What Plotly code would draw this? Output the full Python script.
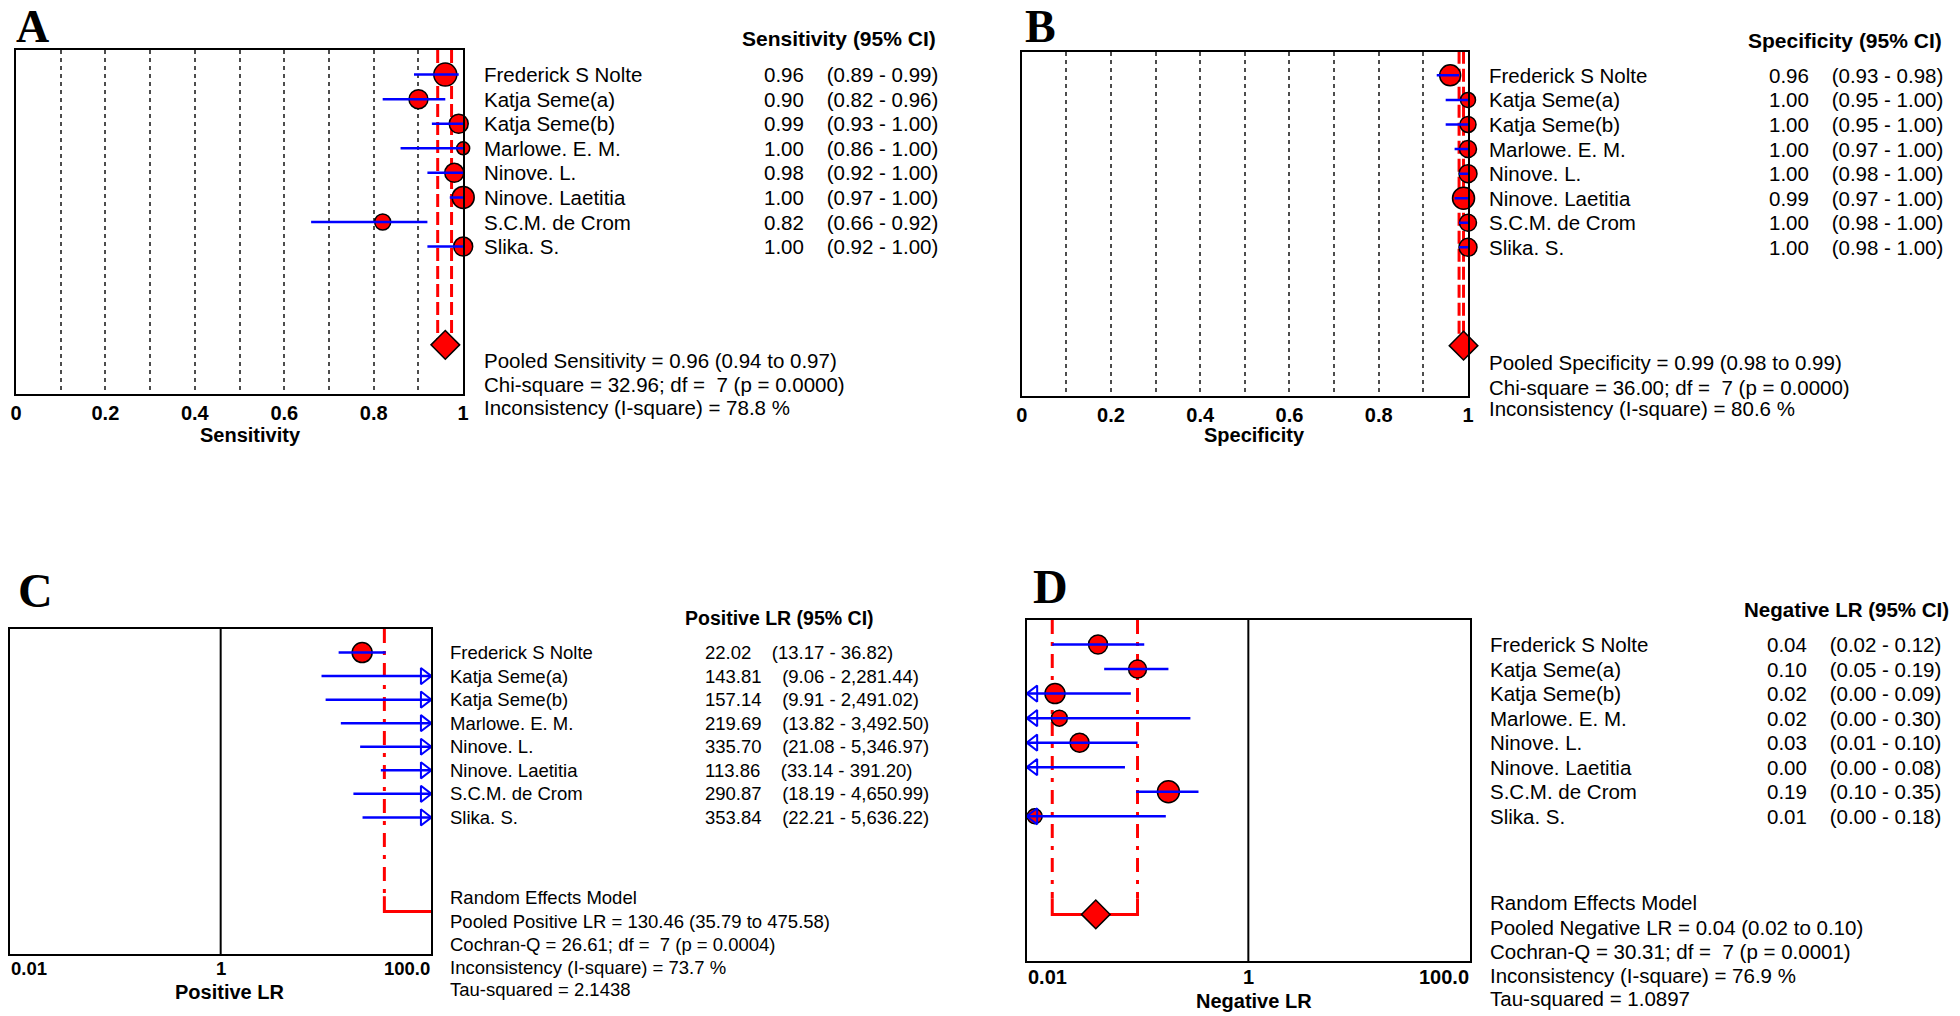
import numpy as np
import plotly.graph_objects as go

W, H = 1960, 1016
SANS = "Liberation Sans, Arial, sans-serif"
SERIF = "Liberation Serif, Times New Roman, serif"
NB = "\u00a0"

# ---------------- data ----------------
studies = ["Frederick S Nolte", "Katja Seme(a)", "Katja Seme(b)", "Marlowe. E. M.",
           "Ninove. L.", "Ninove. Laetitia", "S.C.M. de Crom", "Slika. S."]

sens_est = [0.96, 0.90, 0.99, 1.00, 0.98, 1.00, 0.82, 1.00]
sens_lo = [0.89, 0.82, 0.93, 0.86, 0.92, 0.97, 0.66, 0.92]
sens_hi = [0.99, 0.96, 1.00, 1.00, 1.00, 1.00, 0.92, 1.00]
sens_size = [23, 19, 19, 13, 19, 22, 16, 19]
sens_pooled = [0.96, 0.943, 0.974]
sens_stats = ["Pooled Sensitivity = 0.96 (0.94 to 0.97)",
              "Chi-square = 32.96; df = " + NB + "7 (p = 0.0000)",
              "Inconsistency (I-square) = 78.8 %"]

spec_est = [0.96, 1.00, 1.00, 1.00, 1.00, 0.99, 1.00, 1.00]
spec_lo = [0.93, 0.95, 0.95, 0.97, 0.98, 0.97, 0.98, 0.98]
spec_hi = [0.98, 1.00, 1.00, 1.00, 1.00, 1.00, 1.00, 1.00]
spec_size = [21, 15, 16, 17, 18, 22, 17, 18]
spec_pooled = [0.99, 0.98, 0.99]
spec_stats = ["Pooled Specificity = 0.99 (0.98 to 0.99)",
              "Chi-square = 36.00; df = " + NB + "7 (p = 0.0000)",
              "Inconsistency (I-square) = 80.6 %"]

plr_est = [22.02, 143.81, 157.14, 219.69, 335.70, 113.86, 290.87, 353.84]
plr_lo = [13.17, 9.06, 9.91, 13.82, 21.08, 33.14, 18.19, 22.21]
plr_hi = [36.82, 2281.44, 2491.02, 3492.50, 5346.97, 391.20, 4650.99, 5636.22]
plr_size = [20, 18, 18, 18, 18, 18, 18, 18]
plr_pooled = [130.46, 35.79, 475.58]
plr_stats = ["Random Effects Model",
             "Pooled Positive LR = 130.46 (35.79 to 475.58)",
             "Cochran-Q = 26.61; df = " + NB + "7 (p = 0.0004)",
             "Inconsistency (I-square) = 73.7 %",
             "Tau-squared = 2.1438"]

nlr_est = [0.044, 0.10, 0.018, 0.0197, 0.03, 0.004, 0.19, 0.0118]
nlr_lo = [0.017, 0.05, 0.002, 0.002, 0.006, 0.001, 0.097, 0.001]
nlr_hi = [0.115, 0.19, 0.087, 0.30, 0.10, 0.077, 0.355, 0.18]
nlr_size = [19, 18, 20, 16, 19, 18, 22, 15]
nlr_pooled = [0.042, 0.017, 0.10]
nlr_stats = ["Random Effects Model",
             "Pooled Negative LR = 0.04 (0.02 to 0.10)",
             "Cochran-Q = 30.31; df = " + NB + "7 (p = 0.0001)",
             "Inconsistency (I-square) = 76.9 %",
             "Tau-squared = 1.0897"]

lin_ticks = [0, 0.1, 0.2, 0.3, 0.4, 0.5, 0.6, 0.7, 0.8, 0.9, 1.0]
lin_ticktext = ["0", "", "0.2", "", "0.4", "", "0.6", "", "0.8", "", "1"]
log_ticks = [0.01, 1, 100]
log_ticktext = ["0.01", "1", "100.0"]

rows = list(range(len(studies)))
POOL_ROW = 11

# ---------------- helpers ----------------
def px(x):
    return x / W

def py(y):
    return 1 - y / H

fig = go.Figure()
annotations = []


def ann(x, y, text, xref="paper", yref="paper", size=20, bold=False, xanchor="left",
        yanchor="middle", family=SANS):
    annotations.append(dict(
        x=x, y=y, xref=xref, yref=yref, text=text, showarrow=False,
        xanchor=xanchor, yanchor=yanchor, borderpad=0,
        font=dict(family=family, size=size, color="black", weight="bold" if bold else "normal")))


def forest(ax, est, lo, hi, size, pooled, log, dashstyle, bracket, unclip, xmin, xmax,
           px_per_unit):
    xa, ya = "x" + ax, "y" + ax
    top = -1
    end = 10.35 if bracket else POOL_ROW
    # pooled CI guide lines
    fig.add_trace(go.Scatter(
        x=[pooled[1], pooled[1], None, pooled[2], pooled[2]],
        y=[top, end, None, top, end], mode="lines",
        line=dict(color="#ff0000", width=3, dash=dashstyle), xaxis=xa, yaxis=ya,
        hoverinfo="skip", showlegend=False))
    if bracket:
        fig.add_trace(go.Scatter(
            x=[pooled[1], pooled[1], pooled[2], pooled[2]],
            y=[end, POOL_ROW, POOL_ROW, end], mode="lines",
            line=dict(color="#ff0000", width=3), xaxis=xa, yaxis=ya,
            hoverinfo="skip", showlegend=False))
    # study points (only those inside the axis range for log panels)
    keep = [i for i in rows if xmin <= est[i] <= xmax] if log else rows
    fig.add_trace(go.Scatter(
        x=[est[i] for i in keep], y=[rows[i] for i in keep], mode="markers",
        marker=dict(symbol="circle", size=[size[i] for i in keep], color="#ff0000", opacity=1,
                    line=dict(color="black", width=1.5)),
        opacity=1, cliponaxis=not unclip, xaxis=xa, yaxis=ya, hoverinfo="skip", showlegend=False))
    # CI lines
    xs, ys = [], []
    for i in rows:
        xs += [lo[i], hi[i], None]
        ys += [rows[i], rows[i], None]
    fig.add_trace(go.Scatter(x=xs, y=ys, mode="lines", line=dict(color="#0000ff", width=2.5),
                             xaxis=xa, yaxis=ya, hoverinfo="skip", showlegend=False))
    if log:
        # open arrow heads for CIs running past the axis
        off = 7 / px_per_unit
        rr = [r for r in rows if hi[r] > xmax]
        if rr:
            fig.add_trace(go.Scatter(
                x=[10 ** (np.log10(xmax) - off)] * len(rr), y=rr, mode="markers",
                marker=dict(symbol="triangle-right-open", size=14, color="#0000ff",
                            line=dict(color="#0000ff", width=2)),
                cliponaxis=False, xaxis=xa, yaxis=ya, hoverinfo="skip", showlegend=False))
        ll = [r for r in rows if lo[r] < xmin]
        if ll:
            fig.add_trace(go.Scatter(
                x=[10 ** (np.log10(xmin) + off)] * len(ll), y=ll, mode="markers",
                marker=dict(symbol="triangle-left-open", size=14, color="#0000ff",
                            line=dict(color="#0000ff", width=2)),
                cliponaxis=False, xaxis=xa, yaxis=ya, hoverinfo="skip", showlegend=False))
        # line of no effect
        fig.add_trace(go.Scatter(x=[1, 1], y=[-5, 20], mode="lines",
                                 line=dict(color="black", width=2), xaxis=xa, yaxis=ya,
                                 hoverinfo="skip", showlegend=False))
    # pooled diamond
    if xmin <= pooled[0] <= xmax:
        fig.add_trace(go.Scatter(
            x=[pooled[0]], y=[POOL_ROW], mode="markers",
            marker=dict(symbol="diamond", size=22, color="#ff0000", opacity=1,
                        line=dict(color="black", width=1.5)),
            cliponaxis=False, xaxis=xa, yaxis=ya, hoverinfo="skip", showlegend=False))


forest("", sens_est, sens_lo, sens_hi, sens_size, sens_pooled, False, "13px,5px", False, True, 0, 1, 450)
forest("2", spec_est, spec_lo, spec_hi, spec_size, spec_pooled, False, "13px,5px", False, True, 0, 1, 449)
forest("3", plr_est, plr_lo, plr_hi, plr_size, plr_pooled, True, "14px,8px,4px,8px", True, False, 0.01, 100, 106)
forest("4", nlr_est, nlr_lo, nlr_hi, nlr_size, nlr_pooled, True, "14px,8px,4px,8px", True, False, 0.01, 100, 111.5)

# ---------------- axes ----------------
box = dict(showline=True, mirror=True, linecolor="black", linewidth=2, zeroline=False)

lin_x = dict(box, range=[0, 1], tickmode="array", tickvals=lin_ticks, ticktext=lin_ticktext,
             showgrid=True, gridcolor="#4d4d4d", gridwidth=2, griddash="4px,4px", ticks="",
             tickfont=dict(family=SANS, size=20, color="black", weight="bold"))
log_x = dict(box, type="log", range=[-2, 2], showgrid=False, showticklabels=False, ticks="")
hid_y = dict(box, showgrid=False, showticklabels=False, ticks="", autorange=False)

fig.update_layout(
    xaxis=dict(lin_x, domain=[px(10), px(460)], anchor="y"),
    yaxis=dict(hid_y, domain=[py(394), py(50)], range=[13, -1], anchor="x"),
    xaxis2=dict(lin_x, domain=[px(1022), px(1471)], anchor="y2"),
    yaxis2=dict(hid_y, domain=[py(396), py(52)], range=[13.05, -0.95], anchor="x2"),
    xaxis3=dict(log_x, domain=[px(4), px(428)], anchor="y3"),
    yaxis3=dict(hid_y, domain=[py(954), py(629)], range=[12.8, -1], anchor="x3"),
    xaxis4=dict(log_x, domain=[px(1027), px(1473)], anchor="y4"),
    yaxis4=dict(hid_y, domain=[py(961), py(620)], range=[12.9, -1], anchor="x4"),
)

# ---------------- texts ----------------
panels = [
    ("y", 480, 762, 20.5, "Sensitivity (95% CI)", 740, 38, 21, sens_stats, 480, [360, 384, 408], "{:.2f}", sens_est, sens_lo, sens_hi),
    ("y2", 1491, 1773, 20.5, "Specificity (95% CI)", 1752, 40, 21, spec_stats, 1491, [362, 387, 409], "{:.2f}", spec_est, spec_lo, spec_hi),
    ("y3", 446, 702, 18.5, "Positive LR (95% CI)", 682, 618, 19.5, plr_stats, 446, [897, 921, 944, 967, 989], "{:,.2f}", plr_est, plr_lo, plr_hi),
    ("y4", 1492, 1771, 20.5, "Negative LR (95% CI)", 1748, 609, 20.5, nlr_stats, 1492, [902, 927, 951, 975, 998], "{:.2f}", nlr_est, nlr_lo, nlr_hi),
]
for (yref, nx, vx, fs, header, hx, hy, hs, stats, sx, sy, fmt, est, lo, hi) in panels:
    for i in rows:
        ann(px(nx), rows[i], studies[i], yref=yref, size=fs)
        txt = fmt.format(est[i]) + NB * 4 + "(" + fmt.format(lo[i]) + " - " + fmt.format(hi[i]) + ")"
        ann(px(vx), rows[i], txt, yref=yref, size=fs)
    ann(px(hx), py(hy), header, size=hs, bold=True)
    for s, yy in zip(stats, sy):
        ann(px(sx), py(yy), s, size=fs)

# axis titles
ann(px(246), py(435), "Sensitivity", size=20, bold=True, xanchor="center")
ann(px(1256), py(435), "Specificity", size=20, bold=True, xanchor="center")
ann(px(225), py(992), "Positive LR", size=20, bold=True, xanchor="center")
ann(px(1256), py(1001), "Negative LR", size=20, bold=True, xanchor="center")

# log-axis tick labels
anchors = ["left", "center", "right"]
for xr, yy, fs in [("x3", 968, 18.5), ("x4", 977, 20)]:
    for v, t, a in zip(log_ticks, log_ticktext, anchors):
        ann(np.log10(v), py(yy), t, xref=xr, size=fs, bold=True, xanchor=a)

# panel letters (top ones anchored to the page top so they are not cut)
ann(px(9), py(0), "A", size=46, bold=True, family=SERIF, yanchor="top")
ann(px(1024), py(0), "B", size=46, bold=True, family=SERIF, yanchor="top")
ann(px(11), py(590), "C", size=48, bold=True, family=SERIF)
ann(px(1032), py(586), "D", size=48, bold=True, family=SERIF)

fig.update_layout(
    width=W, height=H, margin=dict(l=0, r=0, t=0, b=0),
    paper_bgcolor="white", plot_bgcolor="white",
    showlegend=False, annotations=annotations,
)

fig.write_html("out.html", config={"displayModeBar": False},
               post_script="document.body.style.margin='0';document.body.style.overflow='hidden';")
